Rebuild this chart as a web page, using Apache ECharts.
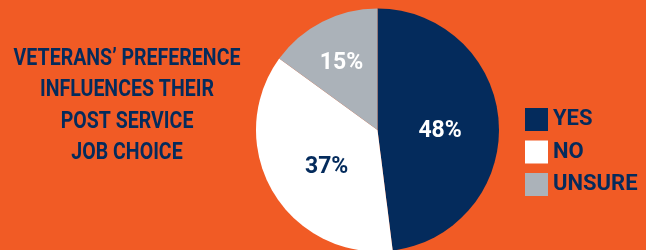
<!DOCTYPE html>
<html>
<head>
<meta charset="utf-8">
<script src="https://cdn.jsdelivr.net/npm/echarts@6/dist/echarts.min.js"></script>
<style>
  html, body { margin: 0; padding: 0; background: #F15B25; }
  #chart { width: 646px; height: 250px; }
</style>
</head>
<body>
<div id="chart"></div>
<script>
// answers and their share (percent)
const answers = ['YES', 'NO', 'UNSURE'];
const shares = [48, 37, 15];
const colors = ['#042B5C', '#FFFFFF', '#ABB2B9'];
const labelColors = ['#FFFFFF', '#042B5C', '#FFFFFF'];
const titleLines = ['VETERANS’ PREFERENCE', 'INFLUENCES THEIR', 'POST SERVICE', 'JOB CHOICE'];

const FONT = 'Roboto, "DejaVu Sans Condensed", sans-serif';
const NAVY = '#042B5C';

const chart = echarts.init(document.getElementById('chart'), null, { renderer: 'canvas' });

const option = {
    backgroundColor: '#F15B25',
    animation: false,
    graphic: [{
        type: 'text',
        x: 127,
        y: 106,
        scaleX: 0.85,
        style: {
            text: titleLines.join('\n'),
            align: 'center',
            verticalAlign: 'middle',
            fill: NAVY,
            font: 'bold 23px ' + FONT,
            lineHeight: 31.5
        }
    }],
    legend: {
        orient: 'vertical',
        left: 525,
        top: 108,
        icon: 'rect',
        itemWidth: 23,
        itemHeight: 23,
        itemGap: 9.5,
        padding: 0,
        selectedMode: false,
        data: answers,
        textStyle: {
            color: NAVY,
            fontFamily: FONT,
            fontWeight: 'bold',
            fontSize: 22
        }
    },
    series: [{
        type: 'pie',
        center: [377.5, 130],
        radius: 121.5,
        startAngle: 90,
        clockwise: true,
        silent: true,
        label: {
            show: true,
            position: 'inside',
            formatter: '{c}%',
            fontFamily: FONT,
            fontWeight: 'bold',
            fontSize: 23
        },
        labelLine: { show: false },
        itemStyle: { borderWidth: 0 },
        data: answers.map((name, i) => ({
            name: name,
            value: shares[i],
            itemStyle: { color: colors[i] },
            label: {
                color: labelColors[i],
                offset: i === 2 ? [-7, -10] : (i === 1 ? [4, 5] : [-1, 5])
            }
        }))
    }]
};

chart.setOption(option);
</script>
</body>
</html>
